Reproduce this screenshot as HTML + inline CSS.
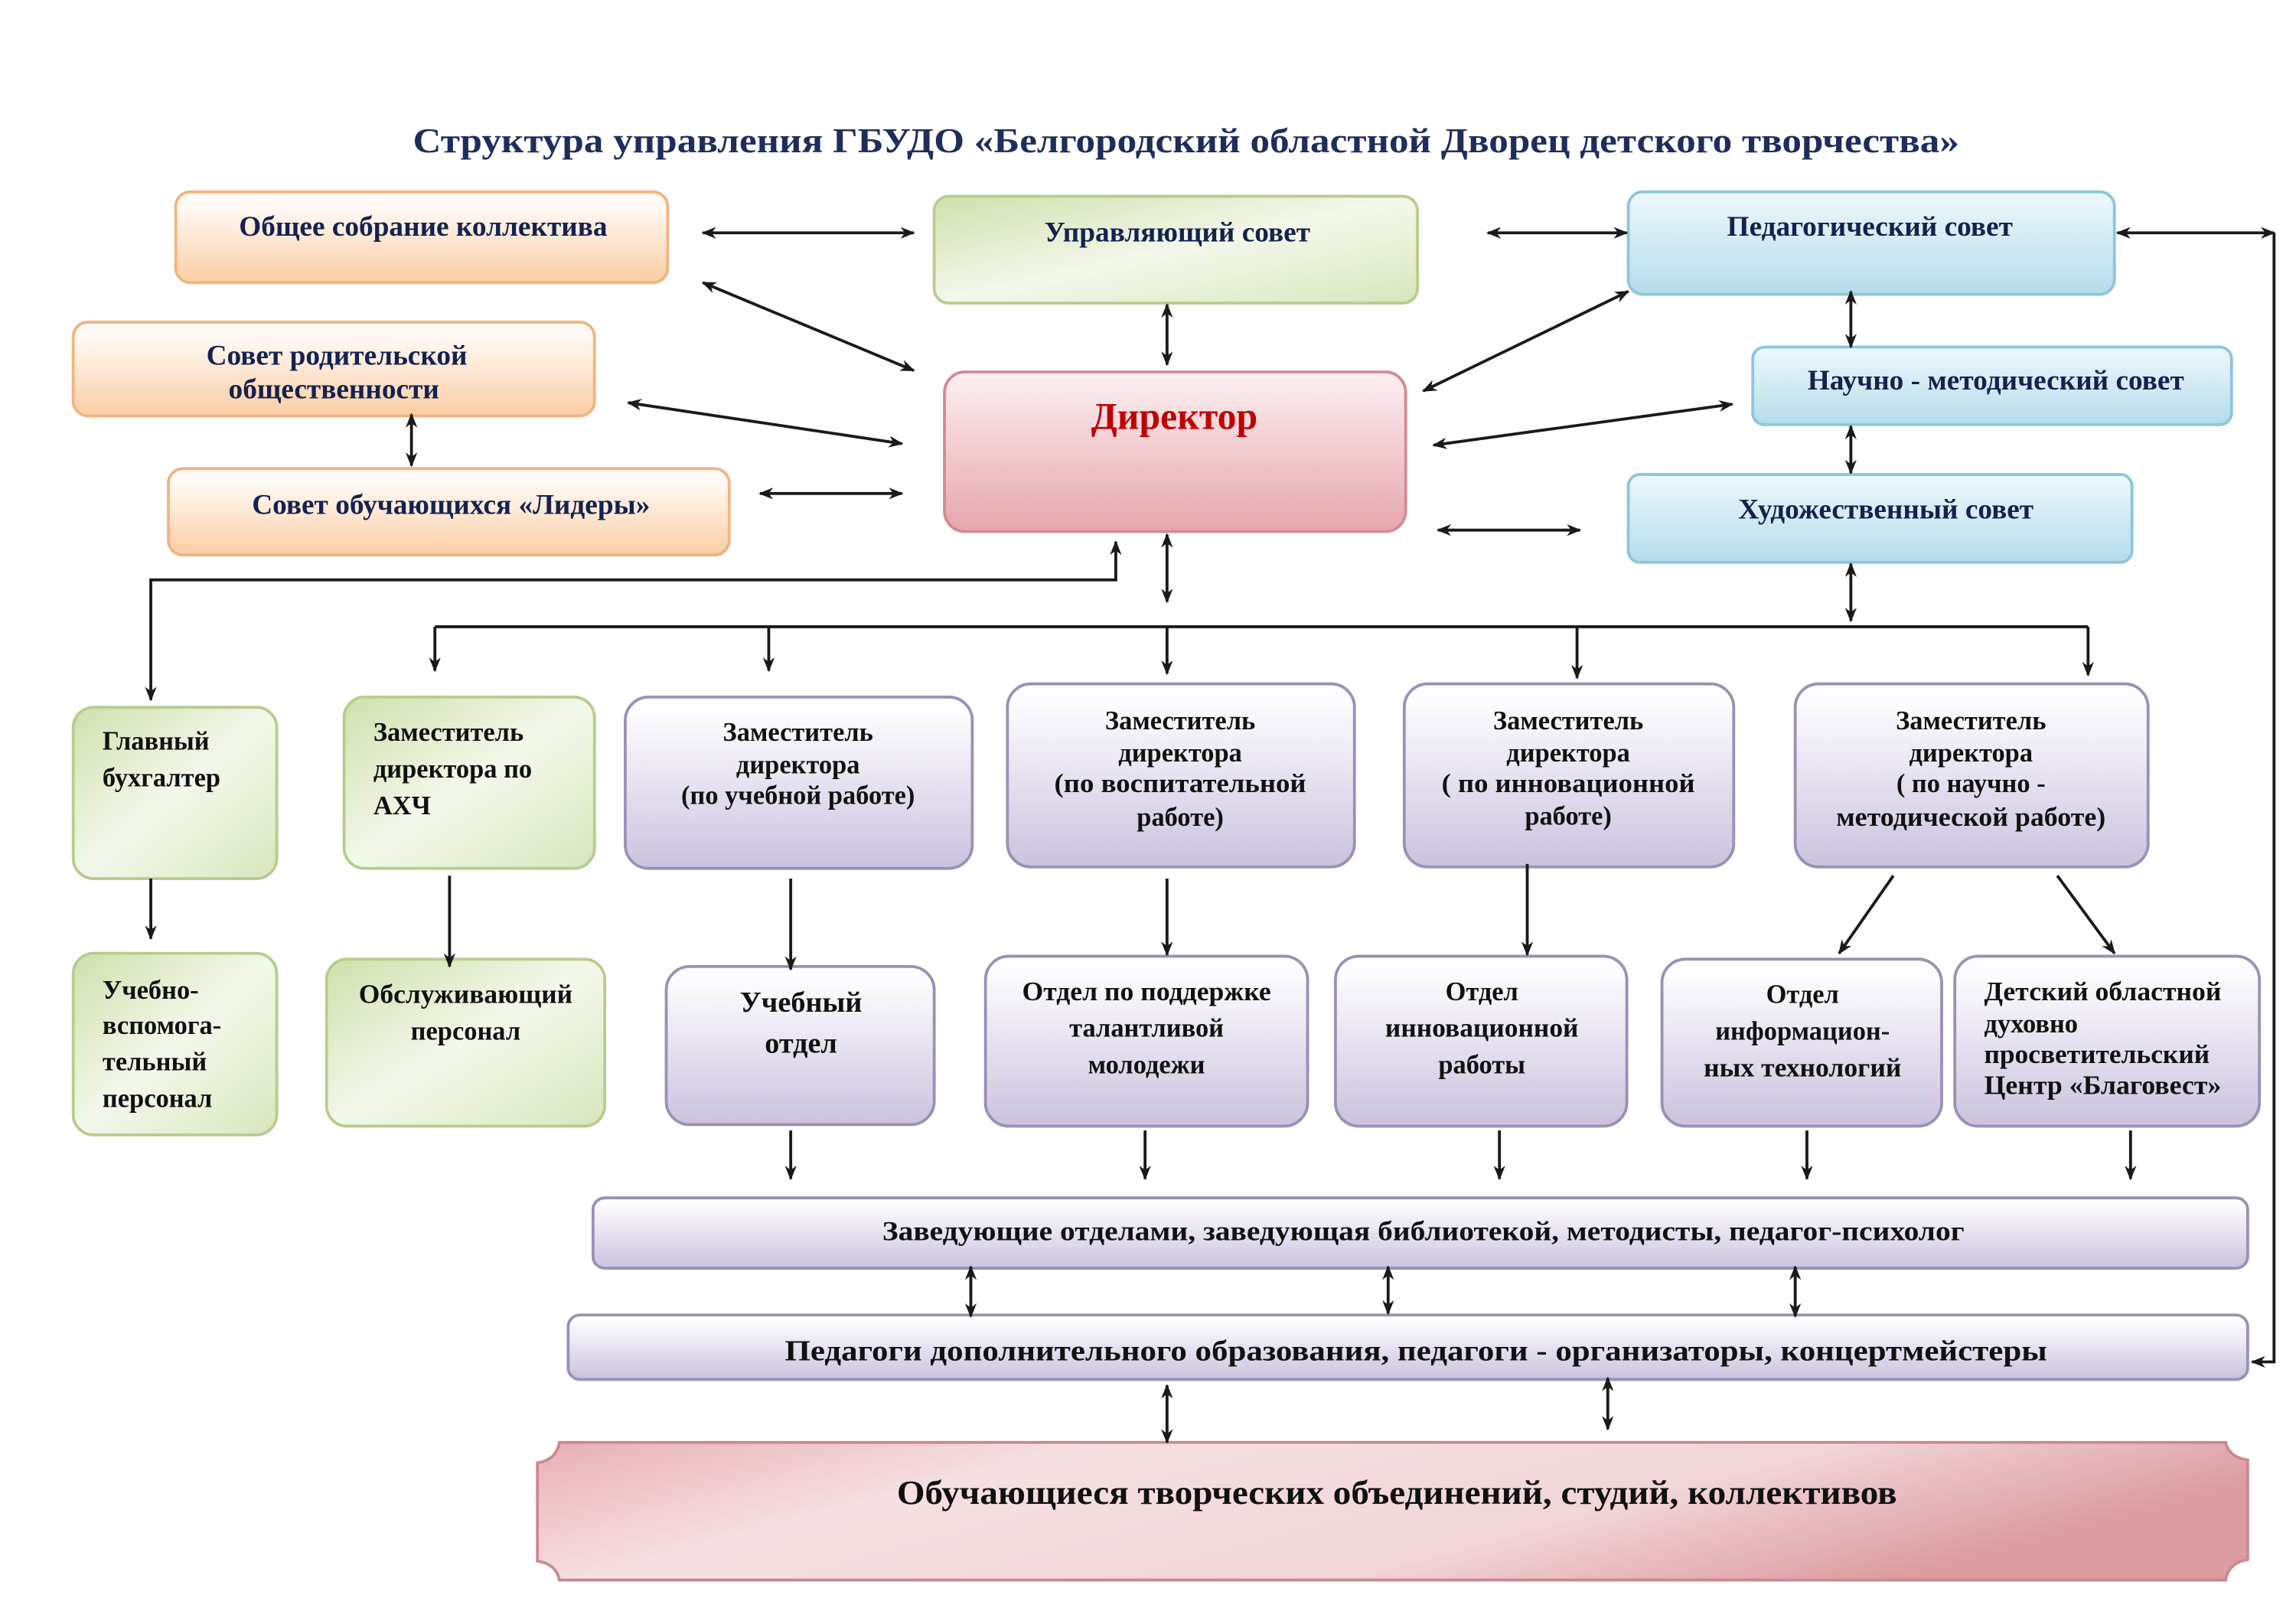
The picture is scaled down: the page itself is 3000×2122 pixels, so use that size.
<!DOCTYPE html>
<html><head><meta charset="utf-8"><style>
html,body{margin:0;padding:0;background:#fff;}
svg{display:block;}
text{font-family:"Liberation Serif",serif;font-weight:bold;}
</style></head><body>
<svg width="3000" height="2122" viewBox="0 0 1568 1109" preserveAspectRatio="none" xmlns="http://www.w3.org/2000/svg">
<defs>
<linearGradient id="go" x1="0" y1="0" x2="0" y2="1"><stop offset="0.15" stop-color="#fffaf6"/><stop offset="1" stop-color="#fbcda3"/></linearGradient>
<linearGradient id="gg" x1="0" y1="0" x2="1" y2="1"><stop offset="0" stop-color="#cfe0ac"/><stop offset="0.5" stop-color="#f3f8ea"/><stop offset="1" stop-color="#d8e7bd"/></linearGradient>
<linearGradient id="gb" x1="0" y1="0" x2="0" y2="1"><stop offset="0" stop-color="#eef8fb"/><stop offset="1" stop-color="#b5dcec"/></linearGradient>
<linearGradient id="gp" x1="0" y1="0" x2="0" y2="1"><stop offset="0.1" stop-color="#fdfcff"/><stop offset="1" stop-color="#cbc2de"/></linearGradient>
<linearGradient id="gr" x1="0" y1="0" x2="0" y2="1"><stop offset="0" stop-color="#fdf0f2"/><stop offset="1" stop-color="#e6a6ac"/></linearGradient>
<linearGradient id="gs" x1="0" y1="0" x2="1" y2="0.3"><stop offset="0" stop-color="#e8b0b4"/><stop offset="0.3" stop-color="#f6dfe2"/><stop offset="0.7" stop-color="#f2d6d9"/><stop offset="1" stop-color="#dc9ca1"/></linearGradient>
<marker id="a" markerWidth="10" markerHeight="10" refX="9" refY="5" orient="auto-start-reverse" markerUnits="userSpaceOnUse"><path d="M0,1 L10,5 L0,9 L3,5 Z" fill="#1a1a1a"/></marker>
</defs>

<text x="282" y="104" font-size="24" fill="#1f2d5c" textLength="1056" lengthAdjust="spacingAndGlyphs">Структура  управления  ГБУДО  «Белгородский областной Дворец детского творчества»</text>

<g stroke-width="2">
<rect x="120" y="131" width="336" height="62" rx="10" fill="url(#go)" stroke="#efb581"/>
<rect x="50" y="220" width="356" height="64" rx="10" fill="url(#go)" stroke="#efb581"/>
<rect x="115" y="320" width="383" height="59" rx="10" fill="url(#go)" stroke="#efb581"/>
<rect x="638" y="134" width="330" height="73" rx="10" fill="url(#gg)" stroke="#b8cd8e"/>
<rect x="50" y="483" width="139" height="117" rx="14" fill="url(#gg)" stroke="#b8cd8e"/>
<rect x="235" y="476" width="171" height="117" rx="14" fill="url(#gg)" stroke="#b8cd8e"/>
<rect x="50" y="651" width="139" height="124" rx="14" fill="url(#gg)" stroke="#b8cd8e"/>
<rect x="223" y="655" width="190" height="114" rx="14" fill="url(#gg)" stroke="#b8cd8e"/>
<rect x="1112" y="131" width="332" height="70" rx="10" fill="url(#gb)" stroke="#8ec6da"/>
<rect x="1197" y="237" width="327" height="53" rx="8" fill="url(#gb)" stroke="#8ec6da"/>
<rect x="1112" y="324" width="344" height="60" rx="8" fill="url(#gb)" stroke="#8ec6da"/>
<rect x="645" y="254" width="315" height="109" rx="14" fill="url(#gr)" stroke="#d28c93"/>
<rect x="427" y="476" width="237" height="117" rx="16" fill="url(#gp)" stroke="#9c90b6"/>
<rect x="688" y="467" width="237" height="125" rx="16" fill="url(#gp)" stroke="#9c90b6"/>
<rect x="959" y="467" width="225" height="125" rx="16" fill="url(#gp)" stroke="#9c90b6"/>
<rect x="1226" y="467" width="241" height="125" rx="16" fill="url(#gp)" stroke="#9c90b6"/>
<rect x="455" y="660" width="183" height="108" rx="16" fill="url(#gp)" stroke="#9c90b6"/>
<rect x="673" y="653" width="220" height="116" rx="16" fill="url(#gp)" stroke="#9c90b6"/>
<rect x="912" y="653" width="199" height="116" rx="16" fill="url(#gp)" stroke="#9c90b6"/>
<rect x="1135" y="655" width="191" height="114" rx="16" fill="url(#gp)" stroke="#9c90b6"/>
<rect x="1335" y="653" width="208" height="116" rx="16" fill="url(#gp)" stroke="#9c90b6"/>
<rect x="405" y="818" width="1130" height="48" rx="8" fill="url(#gp)" stroke="#9c90b6"/>
<rect x="388" y="898" width="1147" height="44" rx="8" fill="url(#gp)" stroke="#9c90b6"/>
<path d="M382,985 L1520,985 Q1522,995 1535,997 L1535,1065 Q1522,1067 1520,1079 L382,1079 Q380,1068 367,1066 L367,999 Q380,997 382,985 Z" fill="url(#gs)" stroke="#c98a90"/>
</g>

<g stroke="#1a1a1a" stroke-width="2" fill="none">
<line x1="480" y1="159" x2="624" y2="159" marker-start="url(#a)" marker-end="url(#a)"/>
<line x1="480" y1="193" x2="624" y2="253" marker-start="url(#a)" marker-end="url(#a)"/>
<line x1="429" y1="275" x2="616" y2="303" marker-start="url(#a)" marker-end="url(#a)"/>
<line x1="519" y1="337" x2="616" y2="337" marker-start="url(#a)" marker-end="url(#a)"/>
<line x1="797" y1="208" x2="797" y2="249" marker-start="url(#a)" marker-end="url(#a)"/>
<line x1="1016" y1="159" x2="1111" y2="159" marker-start="url(#a)" marker-end="url(#a)"/>
<line x1="1112" y1="199" x2="972" y2="267" marker-start="url(#a)" marker-end="url(#a)"/>
<line x1="1183" y1="276" x2="979" y2="304" marker-start="url(#a)" marker-end="url(#a)"/>
<line x1="982" y1="362" x2="1079" y2="362" marker-start="url(#a)" marker-end="url(#a)"/>
<line x1="1264" y1="199" x2="1264" y2="237" marker-start="url(#a)" marker-end="url(#a)"/>
<line x1="1264" y1="291" x2="1264" y2="323" marker-start="url(#a)" marker-end="url(#a)"/>
<line x1="1264" y1="385" x2="1264" y2="424" marker-start="url(#a)" marker-end="url(#a)"/>
<line x1="1446" y1="159" x2="1553" y2="159" marker-start="url(#a)" marker-end="url(#a)"/>
<polyline points="1553,159 1553,930 1538,930" marker-end="url(#a)"/>
<line x1="281" y1="283" x2="281" y2="318" marker-start="url(#a)" marker-end="url(#a)"/>
<line x1="797" y1="365" x2="797" y2="411" marker-start="url(#a)" marker-end="url(#a)"/>
<polyline points="103,478 103,396 762,396 762,370" marker-start="url(#a)" marker-end="url(#a)"/>
<line x1="297" y1="428" x2="1426" y2="428"/>
<line x1="297" y1="428" x2="297" y2="458" marker-end="url(#a)"/>
<line x1="525" y1="428" x2="525" y2="458" marker-end="url(#a)"/>
<line x1="797" y1="428" x2="797" y2="460" marker-end="url(#a)"/>
<line x1="1077" y1="428" x2="1077" y2="463" marker-end="url(#a)"/>
<line x1="1426" y1="428" x2="1426" y2="461" marker-end="url(#a)"/>
<line x1="103" y1="600" x2="103" y2="641" marker-end="url(#a)"/>
<line x1="307" y1="598" x2="307" y2="660" marker-end="url(#a)"/>
<line x1="540" y1="600" x2="540" y2="662" marker-end="url(#a)"/>
<line x1="797" y1="600" x2="797" y2="652" marker-end="url(#a)"/>
<line x1="1043" y1="590" x2="1043" y2="652" marker-end="url(#a)"/>
<line x1="1293" y1="598" x2="1256" y2="651" marker-end="url(#a)"/>
<line x1="1405" y1="598" x2="1444" y2="651" marker-end="url(#a)"/>
<line x1="540" y1="772" x2="540" y2="805" marker-end="url(#a)"/>
<line x1="782" y1="772" x2="782" y2="805" marker-end="url(#a)"/>
<line x1="1024" y1="772" x2="1024" y2="805" marker-end="url(#a)"/>
<line x1="1234" y1="772" x2="1234" y2="805" marker-end="url(#a)"/>
<line x1="1455" y1="772" x2="1455" y2="805" marker-end="url(#a)"/>
<line x1="663" y1="865" x2="663" y2="899" marker-start="url(#a)" marker-end="url(#a)"/>
<line x1="948" y1="865" x2="948" y2="897" marker-start="url(#a)" marker-end="url(#a)"/>
<line x1="1226" y1="865" x2="1226" y2="899" marker-start="url(#a)" marker-end="url(#a)"/>
<line x1="797" y1="946" x2="797" y2="985" marker-start="url(#a)" marker-end="url(#a)"/>
<line x1="1098" y1="941" x2="1098" y2="976" marker-start="url(#a)" marker-end="url(#a)"/>
</g>

<g font-size="19.5" fill="#14224e" text-anchor="middle">
<text x="289" y="161">Общее собрание коллектива</text>
<text x="230" y="249">Совет  родительской</text>
<text x="228" y="272">общественности</text>
<text x="308" y="351">Совет обучающихся  «Лидеры»</text>
<text x="804" y="165">Управляющий совет</text>
<text x="1277" y="161">Педагогический совет</text>
<text x="1363" y="266">Научно - методический совет</text>
<text x="1288" y="354">Художественный совет</text>
</g>
<text x="802" y="293" font-size="26" fill="#c00000" text-anchor="middle">Директор</text>

<g font-size="18" fill="#111">
<text x="70" y="512">Главный</text><text x="70" y="537">бухгалтер</text>
<text x="255" y="506">Заместитель</text><text x="255" y="531">директора по</text><text x="255" y="556">АХЧ</text>
<text x="70" y="682">Учебно-</text><text x="70" y="706">вспомога-</text><text x="70" y="731">тельный</text><text x="70" y="756">персонал</text>
<text x="1355" y="683" textLength="162" lengthAdjust="spacingAndGlyphs">Детский областной</text><text x="1355" y="705">духовно</text><text x="1355" y="726" textLength="154" lengthAdjust="spacingAndGlyphs">просветительский</text><text x="1355" y="747" textLength="162" lengthAdjust="spacingAndGlyphs">Центр «Благовест»</text>
</g>
<g font-size="18" fill="#111" text-anchor="middle">
<text x="545" y="506">Заместитель</text><text x="545" y="528">директора</text><text x="545" y="549" font-weight="normal">(по учебной работе)</text>
<text x="806" y="498">Заместитель</text><text x="806" y="520">директора</text><text x="806" y="541" textLength="172" lengthAdjust="spacingAndGlyphs">(по  воспитательной</text><text x="806" y="564">работе)</text>
<text x="1071" y="498">Заместитель</text><text x="1071" y="520">директора</text><text x="1071" y="541" textLength="173" lengthAdjust="spacingAndGlyphs">( по  инновационной</text><text x="1071" y="563">работе)</text>
<text x="1346" y="498">Заместитель</text><text x="1346" y="520">директора</text><text x="1346" y="541">( по научно -</text><text x="1346" y="564" textLength="184" lengthAdjust="spacingAndGlyphs">методической работе)</text>
<text x="318" y="685" textLength="146" lengthAdjust="spacingAndGlyphs">Обслуживающий</text><text x="318" y="710">персонал</text>
<text x="547" y="691" font-size="20">Учебный</text><text x="547" y="719" font-size="20">отдел</text>
<text x="783" y="683" textLength="170" lengthAdjust="spacingAndGlyphs">Отдел по поддержке</text><text x="783" y="708">талантливой</text><text x="783" y="733">молодежи</text>
<text x="1012" y="683">Отдел</text><text x="1012" y="708" textLength="132" lengthAdjust="spacingAndGlyphs">инновационной</text><text x="1012" y="733">работы</text>
<text x="1231" y="685">Отдел</text><text x="1231" y="710">информацион-</text><text x="1231" y="735" textLength="135" lengthAdjust="spacingAndGlyphs">ных технологий</text>
<text x="972" y="847" font-size="19" textLength="739" lengthAdjust="spacingAndGlyphs">Заведующие отделами, заведующая библиотекой, методисты, педагог-психолог</text>
<text x="967" y="929" font-size="20" textLength="862" lengthAdjust="spacingAndGlyphs">Педагоги дополнительного образования, педагоги - организаторы, концертмейстеры</text>
<text x="954" y="1027" font-size="23" textLength="683" lengthAdjust="spacingAndGlyphs">Обучающиеся  творческих объединений, студий, коллективов</text>
</g>
</svg>
</body></html>
